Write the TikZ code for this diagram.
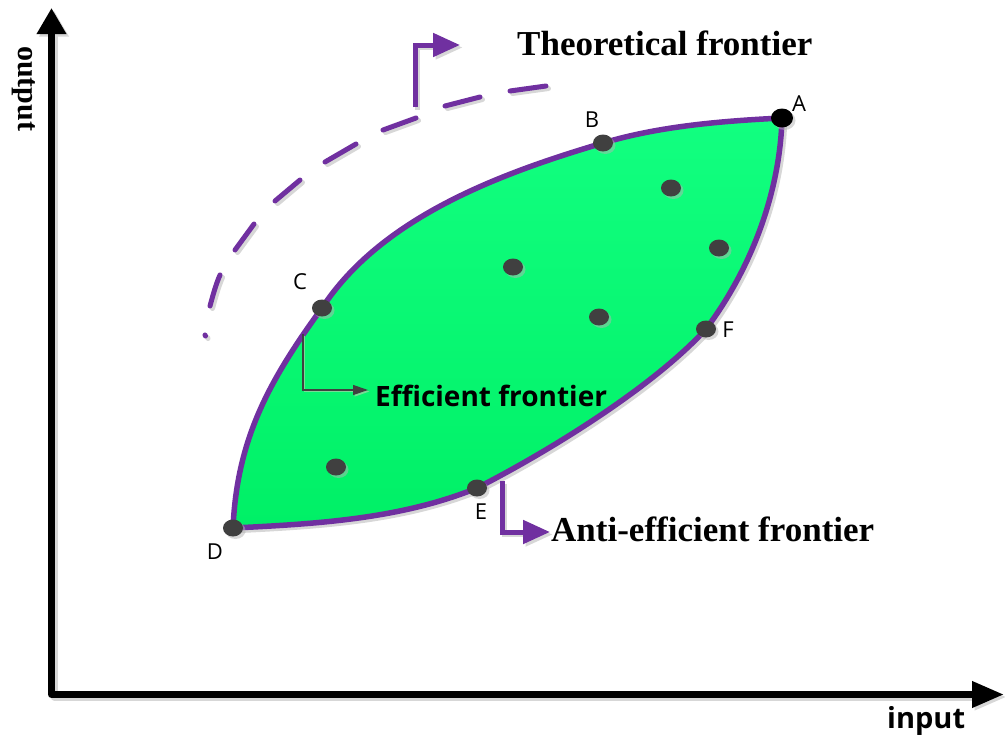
\documentclass[tikz,border=0pt]{standalone}
\usepackage{fontspec}
\setmainfont{Liberation Serif}
\newfontfamily\osans{Open Sans}
\usetikzlibrary{arrows.meta,shapes.geometric,shadows}
\definecolor{pur}{HTML}{7030A0}
\definecolor{dotc}{HTML}{404040}
\definecolor{gtop}{RGB}{18,255,128}
\definecolor{gbot}{RGB}{0,240,102}
\definecolor{shd}{RGB}{215,215,215}
\definecolor{shdg}{RGB}{180,180,180}
\definecolor{shgreen}{RGB}{120,220,150}
\begin{document}
\begin{tikzpicture}[x=1pt,y=-1pt,
  shadowed/.style={transform canvas={shift={(2.5pt,-2.5pt)}}},
  axisline/.style={line width=7pt, line join=round,
     {Triangle[length=26pt,width=28pt]}-{Triangle[length=32pt,width=25pt]}},
  purarrow/.style={draw=pur, line width=5pt, -{Triangle[length=27pt,width=23pt]}},
  thinarrow/.style={draw=dotc, line width=1.2pt, -{Triangle[length=15pt,width=10pt]}},
  frontier/.style={draw=pur, line width=5.5pt, line join=round},
  theo/.style={draw=pur, line width=5pt, line cap=round},
  dot/.style={ellipse, fill=dotc, minimum width=20pt, minimum height=17pt, inner sep=0pt,
     drop shadow={shadow xshift=2.5pt, shadow yshift=-2.5pt, fill=shdg, opacity=0.5}},
  lbl/.style={font=\osans\fontsize{22}{26}\selectfont, inner sep=0pt},
  serifbold/.style={font=\bfseries\fontsize{35}{40}\selectfont, inner sep=0pt},
  sansbold/.style={font=\osans\bfseries\fontsize{28}{32}\selectfont, inner sep=0pt}
]
\useasboundingbox (0,0) rectangle (1005,736);

% axes
\coordinate (ytip) at (51.5,8);
\coordinate (org) at (51.5,694.5);
\coordinate (xtip) at (1004,694.5);
\draw[axisline, draw=shd, shadowed] (ytip) -- (org) -- (xtip);
\draw[axisline, draw=black] (ytip) -- (org) -- (xtip);
\node[serifbold, font=\bfseries\fontsize{30}{34}\selectfont, rotate=-90, anchor=base west] (ylab) at (19,46) {output};
\node[sansbold, font=\osans\bfseries\fontsize{29}{33}\selectfont, anchor=base west] (xlab) at (887,728) {input};

% theoretical frontier (dashed)
\begin{scope}[transform canvas={shift={(2.5pt,-2.5pt)}}]
\draw[theo, draw=shd] (205,335) -- (205.5,336);
\draw[theo, draw=shd] (210,306) .. controls (213,295) and (216,284) .. (220,275);
\draw[theo, draw=shd] (235,250) -- (254,224);
\draw[theo, draw=shd] (275,201) -- (300,180);
\draw[theo, draw=shd] (325,162) -- (356,144);
\draw[theo, draw=shd] (383,130) -- (416,118);
\draw[theo, draw=shd] (445,106) -- (480,97);
\draw[theo, draw=shd] (510,91) -- (546,86);
\end{scope}
\draw[theo] (205,335) -- (205.5,336);
\draw[theo] (210,306) .. controls (213,295) and (216,284) .. (220,275);
\draw[theo] (235,250) -- (254,224);
\draw[theo] (275,201) -- (300,180);
\draw[theo] (325,162) -- (356,144);
\draw[theo] (383,130) -- (416,118);
\draw[theo] (445,106) -- (480,97);
\draw[theo] (510,91) -- (546,86);

\coordinate (tS) at (415,107);
\coordinate (tE) at (460,45);
\draw[purarrow, draw=shd, shadowed] (tS) |- (tE);
\draw[purarrow] (tS) |- (tE);
\node[serifbold, anchor=base west] (theoT) at (517,56) {Theoretical frontier};

% lens
\coordinate (pA) at (782,118);
\coordinate (pB) at (603,143);
\coordinate (pC) at (322,308);
\coordinate (pD) at (233,528);
\coordinate (pE) at (477,488);
\coordinate (pF) at (706,329);
\draw[frontier, draw=shd, shadowed] (pD) .. controls (237,440) and (268,382) .. (pC)
   .. controls (381,218) and (498,174) .. (pB)
   .. controls (660,126) and (722,121) .. (pA)
   .. controls (780,193) and (751,269) .. (pF)
   .. controls (655,385) and (555,448) .. (pE)
   .. controls (401,519) and (316,524) .. (pD) -- cycle;
\shade[top color=gtop, bottom color=gbot] (pD) .. controls (237,440) and (268,382) .. (pC)
   .. controls (381,218) and (498,174) .. (pB)
   .. controls (660,126) and (722,121) .. (pA)
   .. controls (780,193) and (751,269) .. (pF)
   .. controls (655,385) and (555,448) .. (pE)
   .. controls (401,519) and (316,524) .. (pD) -- cycle;
\draw[frontier] (pD) .. controls (237,440) and (268,382) .. (pC)
   .. controls (381,218) and (498,174) .. (pB)
   .. controls (660,126) and (722,121) .. (pA)
   .. controls (780,193) and (751,269) .. (pF)
   .. controls (655,385) and (555,448) .. (pE)
   .. controls (401,519) and (316,524) .. (pD) -- cycle;

% efficient frontier arrow
\coordinate (eS) at (303,334);
\coordinate (eE) at (368,390);
\draw[thinarrow, draw=shgreen, transform canvas={shift={(1.5pt,-1.5pt)}}] (eS) |- (eE);
\draw[thinarrow] (eS) |- (eE);
\node[sansbold, anchor=base west] (effT) at (375,406) {Efficient frontier};

% anti-efficient arrow
\coordinate (aS) at (502,481);
\coordinate (aE) at (550,532);
\draw[purarrow, draw=shd, shadowed] (aS) |- (aE);
\draw[purarrow] (aS) |- (aE);
\node[serifbold, anchor=base west] (antiT) at (551,541) {Anti-efficient frontier};

% points
\node[dot, fill=black, minimum width=22pt, minimum height=19pt] (A) at (pA) {};
\node[dot] (B) at (pB) {};
\node[dot] (C) at (pC) {};
\node[dot] (D) at (pD) {};
\node[dot] (E) at (pE) {};
\node[dot] (F) at (pF) {};
\node[dot] (p1) at (671,188) {};
\node[dot] (p2) at (719,248) {};
\node[dot] (p3) at (513,267) {};
\node[dot] (p4) at (599,317) {};
\node[dot] (p5) at (336,467) {};

% labels
\node[lbl] (lA) at (799,104) {A};
\node[lbl] (lB) at (592,120) {B};
\node[lbl] (lC) at (300,282) {C};
\node[lbl] (lD) at (215,552) {D};
\node[lbl] (lE) at (481,512) {E};
\node[lbl] (lF) at (728,330) {F};
\end{tikzpicture}
\end{document}
